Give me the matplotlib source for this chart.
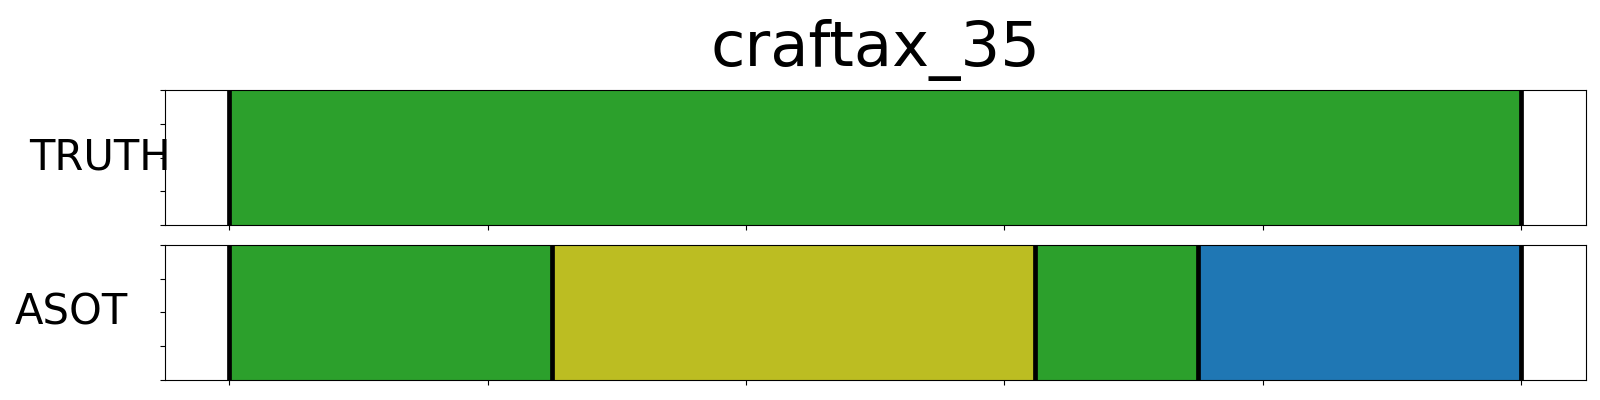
import matplotlib
matplotlib.use("Agg")
import matplotlib.pyplot as plt

# segment data (frame indices) for each row
n_frames = 500
truth_bounds = [0, 500]
truth_colors = ["#2ca02c"]
asot_bounds = [0, 125, 312, 375, 500]
asot_colors = ["#2ca02c", "#bcbd22", "#2ca02c", "#1f77b4"]
row_names = ["TRUTH", "ASOT"]
label_x = [-0.046, -0.066]
xtick_vals = [0, 100, 200, 300, 400, 500]
ytick_vals = [0, 0.25, 0.5, 0.75, 1.0]

fig, axes = plt.subplots(2, 1, figsize=(16, 4), dpi=100)
fig.subplots_adjust(left=0.103, right=0.991, top=0.775, bottom=0.05, hspace=0.148)

rows = [(truth_bounds, truth_colors), (asot_bounds, asot_colors)]
for idx, ax in enumerate(axes):
    bounds, colors = rows[idx]
    for s, e, c in zip(bounds[:-1], bounds[1:], colors):
        ax.axvspan(s, e, color=c, lw=0)
    for b in bounds:
        ax.axvline(b, color="black", lw=3.4)
    ax.set_xlim(-0.05 * n_frames, 1.05 * n_frames)
    ax.set_ylim(0, 1)
    ax.set_xticks(xtick_vals)
    ax.set_xticklabels([])
    ax.set_yticks(ytick_vals)
    ax.set_yticklabels([])
    ax.set_ylabel(row_names[idx], rotation=0, fontsize=30, ha="center", va="center")
    ax.yaxis.set_label_coords(label_x[idx], 0.5)

axes[0].set_title("craftax_35", fontsize=45, pad=17)

plt.savefig("out.png")
